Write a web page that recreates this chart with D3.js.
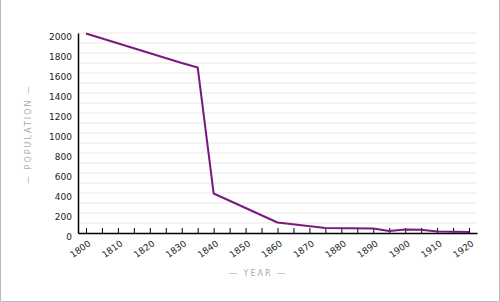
<!DOCTYPE html>
<html>
<head>
<meta charset="utf-8">
<script src="https://cdnjs.cloudflare.com/ajax/libs/d3/7.8.5/d3.min.js"></script>
<style>
body { margin: 0; background: #fff; }
svg { display: block; }
svg text { font-family: "DejaVu Sans", Verdana, sans-serif; }
</style>
</head>
<body>
<svg id="chart" width="500" height="302"></svg>
<script>
var years = [1800, 1830, 1835, 1840, 1860, 1875, 1890, 1895, 1900, 1905, 1910, 1920];
var population = [1995, 1700, 1655, 395, 105, 50, 45, 20, 35, 32, 14, 10];
var yTicks = [0, 200, 400, 600, 800, 1000, 1200, 1400, 1600, 1800, 2000];
var xLabelYears = [1800, 1810, 1820, 1830, 1840, 1850, 1860, 1870, 1880, 1890, 1900, 1910, 1920];

var svg = d3.select('#chart');
var width = 500, height = 302;
var margin = {top: 33, right: 23, bottom: 69, left: 78};

var xScale = d3.scaleLinear()
    .domain([1797.5, 1922.5])
    .range([margin.left, width - margin.right]);

var yScale = d3.scaleLinear()
    .domain([0, 2000])
    .range([height - margin.bottom, margin.top]);

// frame
svg.append("path")
    .attr("d", "M0.5,0 V301.5 H499.5 V0")
    .style("fill", "none")
    .style("stroke", "#bbb")
    .style("stroke-width", 1);

// gridlines every 100
svg.append("g")
    .selectAll("line")
    .data(d3.range(100, 2001, 100))
    .enter()
    .append("line")
    .attr("x1", margin.left)
    .attr("x2", width - margin.right)
    .attr("y1", function(d){ return yScale(d); })
    .attr("y2", function(d){ return yScale(d); })
    .style("stroke", "#e8e8e8")
    .style("stroke-width", 1);

// y axis
var yAxis = d3.axisLeft(yScale).tickValues(yTicks).tickSize(0).tickPadding(6)
    .tickFormat(d3.format("d"));
var gy = svg.append("g")
    .attr("transform", "translate(" + margin.left + ",0)")
    .call(yAxis);
gy.select(".domain").style("stroke", "#000").style("stroke-width", 1.5);
gy.selectAll("text")
    .attr("dy", "0.75em")
    .style("font-size", "9px")
    .style("fill", "#222");

// x axis
var xAxis = d3.axisBottom(xScale)
    .tickValues(d3.range(1800, 1921, 5))
    .tickSizeInner(-5)
    .tickSizeOuter(0)
    .tickFormat(function(d){ return xLabelYears.indexOf(d) >= 0 ? d : ""; });
var gx = svg.append("g")
    .attr("transform", "translate(0," + yScale(0) + ")")
    .call(xAxis);
gx.select(".domain").style("stroke", "#000").style("stroke-width", 1.5);
gx.selectAll("line").style("stroke", "#000");
gx.selectAll("text")
    .attr("y", 0)
    .attr("dy", 0)
    .style("text-anchor", "end")
    .style("font-size", "9px")
    .style("fill", "#222")
    .attr("transform", "translate(5,12) rotate(-35)");

// line
var line = d3.line()
    .x(function(d, i){ return xScale(years[i]); })
    .y(function(d){ return yScale(d); });

svg.append("path")
    .datum(population)
    .attr("d", line)
    .style("fill", "none")
    .style("stroke", "#7b1a7e")
    .style("stroke-width", 2)
    .style("stroke-linejoin", "round");

// axis titles
svg.append("text")
    .attr("x", 258)
    .attr("y", 276)
    .attr("text-anchor", "middle")
    .style("font-size", "8px")
    .style("letter-spacing", "2px")
    .style("fill", "#aaa")
    .text("— YEAR —");

svg.append("text")
    .attr("transform", "translate(31,134) rotate(-90)")
    .attr("text-anchor", "middle")
    .style("font-size", "8px")
    .style("letter-spacing", "2px")
    .style("fill", "#aaa")
    .text("— POPULATION —");
</script>
</body>
</html>
